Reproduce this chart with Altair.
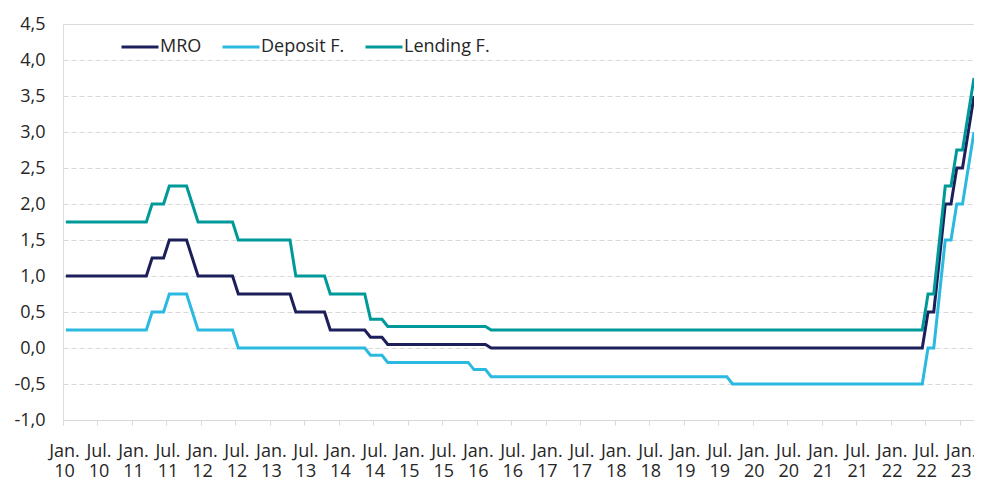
import altair as alt
import pandas as pd

# Series names and colours
series_names = ["MRO", "Deposit F.", "Lending F."]
series_colors = ["#1c1f5a", "#2bb9e0", "#00999a"]

# Month-end ECB rates, Jan 2010 .. Mar 2023 (one line per year)
mro = [
    1.00, 1.00, 1.00, 1.00, 1.00, 1.00, 1.00, 1.00, 1.00, 1.00, 1.00, 1.00,  # 2010
    1.00, 1.00, 1.00, 1.25, 1.25, 1.25, 1.50, 1.50, 1.50, 1.50, 1.25, 1.00,  # 2011
    1.00, 1.00, 1.00, 1.00, 1.00, 1.00, 0.75, 0.75, 0.75, 0.75, 0.75, 0.75,  # 2012
    0.75, 0.75, 0.75, 0.75, 0.50, 0.50, 0.50, 0.50, 0.50, 0.50, 0.25, 0.25,  # 2013
    0.25, 0.25, 0.25, 0.25, 0.25, 0.15, 0.15, 0.15, 0.05, 0.05, 0.05, 0.05,  # 2014
    0.05, 0.05, 0.05, 0.05, 0.05, 0.05, 0.05, 0.05, 0.05, 0.05, 0.05, 0.05,  # 2015
    0.05, 0.05, 0.00, 0.00, 0.00, 0.00, 0.00, 0.00, 0.00, 0.00, 0.00, 0.00,  # 2016
    0.00, 0.00, 0.00, 0.00, 0.00, 0.00, 0.00, 0.00, 0.00, 0.00, 0.00, 0.00,  # 2017
    0.00, 0.00, 0.00, 0.00, 0.00, 0.00, 0.00, 0.00, 0.00, 0.00, 0.00, 0.00,  # 2018
    0.00, 0.00, 0.00, 0.00, 0.00, 0.00, 0.00, 0.00, 0.00, 0.00, 0.00, 0.00,  # 2019
    0.00, 0.00, 0.00, 0.00, 0.00, 0.00, 0.00, 0.00, 0.00, 0.00, 0.00, 0.00,  # 2020
    0.00, 0.00, 0.00, 0.00, 0.00, 0.00, 0.00, 0.00, 0.00, 0.00, 0.00, 0.00,  # 2021
    0.00, 0.00, 0.00, 0.00, 0.00, 0.00, 0.50, 0.50, 1.25, 2.00, 2.00, 2.50,  # 2022
    2.50, 3.00, 3.50,                                                        # 2023
]
deposit = [
    0.25, 0.25, 0.25, 0.25, 0.25, 0.25, 0.25, 0.25, 0.25, 0.25, 0.25, 0.25,
    0.25, 0.25, 0.25, 0.50, 0.50, 0.50, 0.75, 0.75, 0.75, 0.75, 0.50, 0.25,
    0.25, 0.25, 0.25, 0.25, 0.25, 0.25, 0.00, 0.00, 0.00, 0.00, 0.00, 0.00,
    0.00, 0.00, 0.00, 0.00, 0.00, 0.00, 0.00, 0.00, 0.00, 0.00, 0.00, 0.00,
    0.00, 0.00, 0.00, 0.00, 0.00, -0.10, -0.10, -0.10, -0.20, -0.20, -0.20, -0.20,
    -0.20, -0.20, -0.20, -0.20, -0.20, -0.20, -0.20, -0.20, -0.20, -0.20, -0.20, -0.30,
    -0.30, -0.30, -0.40, -0.40, -0.40, -0.40, -0.40, -0.40, -0.40, -0.40, -0.40, -0.40,
    -0.40, -0.40, -0.40, -0.40, -0.40, -0.40, -0.40, -0.40, -0.40, -0.40, -0.40, -0.40,
    -0.40, -0.40, -0.40, -0.40, -0.40, -0.40, -0.40, -0.40, -0.40, -0.40, -0.40, -0.40,
    -0.40, -0.40, -0.40, -0.40, -0.40, -0.40, -0.40, -0.40, -0.50, -0.50, -0.50, -0.50,
    -0.50, -0.50, -0.50, -0.50, -0.50, -0.50, -0.50, -0.50, -0.50, -0.50, -0.50, -0.50,
    -0.50, -0.50, -0.50, -0.50, -0.50, -0.50, -0.50, -0.50, -0.50, -0.50, -0.50, -0.50,
    -0.50, -0.50, -0.50, -0.50, -0.50, -0.50, 0.00, 0.00, 0.75, 1.50, 1.50, 2.00,
    2.00, 2.50, 3.00,
]
lending = [
    1.75, 1.75, 1.75, 1.75, 1.75, 1.75, 1.75, 1.75, 1.75, 1.75, 1.75, 1.75,
    1.75, 1.75, 1.75, 2.00, 2.00, 2.00, 2.25, 2.25, 2.25, 2.25, 2.00, 1.75,
    1.75, 1.75, 1.75, 1.75, 1.75, 1.75, 1.50, 1.50, 1.50, 1.50, 1.50, 1.50,
    1.50, 1.50, 1.50, 1.50, 1.00, 1.00, 1.00, 1.00, 1.00, 1.00, 0.75, 0.75,
    0.75, 0.75, 0.75, 0.75, 0.75, 0.40, 0.40, 0.40, 0.30, 0.30, 0.30, 0.30,
    0.30, 0.30, 0.30, 0.30, 0.30, 0.30, 0.30, 0.30, 0.30, 0.30, 0.30, 0.30,
    0.30, 0.30, 0.25, 0.25, 0.25, 0.25, 0.25, 0.25, 0.25, 0.25, 0.25, 0.25,
    0.25, 0.25, 0.25, 0.25, 0.25, 0.25, 0.25, 0.25, 0.25, 0.25, 0.25, 0.25,
    0.25, 0.25, 0.25, 0.25, 0.25, 0.25, 0.25, 0.25, 0.25, 0.25, 0.25, 0.25,
    0.25, 0.25, 0.25, 0.25, 0.25, 0.25, 0.25, 0.25, 0.25, 0.25, 0.25, 0.25,
    0.25, 0.25, 0.25, 0.25, 0.25, 0.25, 0.25, 0.25, 0.25, 0.25, 0.25, 0.25,
    0.25, 0.25, 0.25, 0.25, 0.25, 0.25, 0.25, 0.25, 0.25, 0.25, 0.25, 0.25,
    0.25, 0.25, 0.25, 0.25, 0.25, 0.25, 0.75, 0.75, 1.50, 2.25, 2.25, 2.75,
    2.75, 3.25, 3.75,
]

# X tick labels (every six months, Jan. 10 .. Jan. 23)
tick_months = ["Jan.", "Jul.", "Jan.", "Jul.", "Jan.", "Jul.", "Jan.", "Jul.", "Jan.",
               "Jul.", "Jan.", "Jul.", "Jan.", "Jul.", "Jan.", "Jul.", "Jan.", "Jul.",
               "Jan.", "Jul.", "Jan.", "Jul.", "Jan.", "Jul.", "Jan.", "Jul.", "Jan."]
tick_years = ["10", "10", "11", "11", "12", "12", "13", "13", "14", "14", "15", "15",
              "16", "16", "17", "17", "18", "18", "19", "19", "20", "20", "21", "21",
              "22", "22", "23"]
y_ticks = [-1.0, -0.5, 0.0, 0.5, 1.0, 1.5, 2.0, 2.5, 3.0, 3.5, 4.0, 4.5]

rows = []
for name, vals in zip(series_names, [mro, deposit, lending]):
    for i, v in enumerate(vals):
        rows.append({"m": i, "series": name, "value": v})
df = pd.DataFrame(rows)

tick_vals = [-0.5 + 6 * k for k in range(len(tick_months))]
m_arr = "[" + ",".join("'%s'" % s for s in tick_months) + "]"
y_arr = "[" + ",".join("'%s'" % s for s in tick_years) + "]"
idx = "round((datum.value + 0.5) / 6)"
x_label_expr = "[%s[%s], %s[%s]]" % (m_arr, idx, y_arr, idx)

FONT = "Open Sans"
TXT = "#262626"
GRID = "#d9d9d9"

x_enc = alt.X(
    "m:Q",
    scale=alt.Scale(domain=[-0.5, 158], nice=False, zero=False),
    axis=alt.Axis(
        values=tick_vals, labelExpr=x_label_expr, title=None, grid=False,
        tickSize=5, tickColor=GRID, domainColor=GRID, tickWidth=1, domainWidth=1,
        labelPadding=17, labelFontSize=18, labelLineHeight=20, labelFont=FONT,
        labelColor=TXT, labelOverlap=False, labelFlush=False, labelOffset=1,
        labelBaseline="top",
    ),
)
y_enc = alt.Y(
    "value:Q",
    scale=alt.Scale(domain=[-1, 4.5], nice=False, zero=False),
    axis=alt.Axis(
        values=y_ticks, format=".1f", title=None, domain=False, ticks=False,
        grid=True, gridColor=GRID, gridDash=[5, 3], gridWidth=1,
        labelPadding=18, labelFontSize=18, labelFont=FONT, labelColor=TXT,
    ),
)
color_enc = alt.Color(
    "series:N",
    scale=alt.Scale(domain=series_names, range=series_colors),
    legend=alt.Legend(
        orient="none", legendX=57, legendY=3, direction="horizontal", title=None,
        symbolType="stroke", symbolSize=1369, symbolStrokeWidth=3,
        labelFontSize=18, labelFont=FONT, labelColor=TXT, labelOffset=0,
        columnPadding=14, padding=0,
    ),
)

base = alt.Chart(df).encode(x=x_enc, y=y_enc, color=color_enc)
layers = [
    base.transform_filter(alt.datum.series == s).mark_line(strokeWidth=3)
    for s in series_names
]

chart = alt.layer(*layers).properties(
    width=911,
    height=396,
    autosize=alt.AutoSizeParams(type="none"),
    padding={"left": 55, "top": 16, "right": 0, "bottom": 62},
).configure_view(stroke=None).configure(
    font=FONT,
    locale={"number": {"decimal": ",", "thousands": ".", "grouping": [3],
                       "currency": ["", " €"], "minus": "-"}},
)

chart.save("out.html", embed_options={"renderer": "svg", "actions": False})
